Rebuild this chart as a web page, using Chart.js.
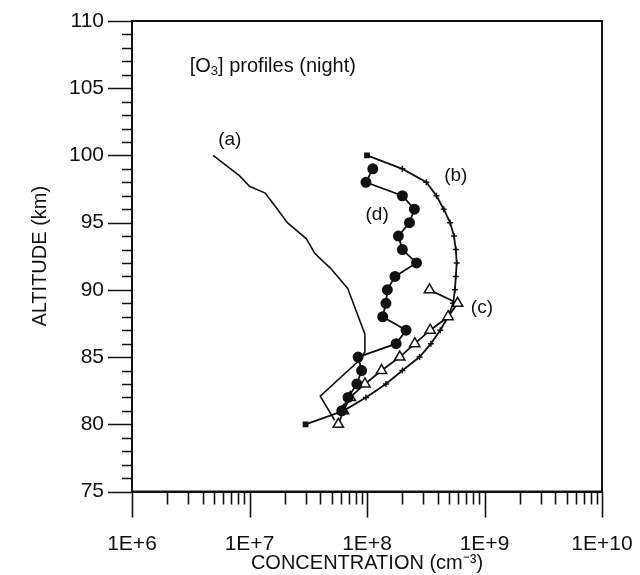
<!DOCTYPE html>
<html>
<head>
<meta charset="utf-8">
<title>O3 night profiles</title>
<script src="https://cdn.jsdelivr.net/npm/chart.js@4.4.1/dist/chart.umd.min.js"></script>
<style>
    html, body { margin: 0; padding: 0; background: #fff; }
</style>
</head>
<body>
<canvas id="ozoneChart" width="640" height="575"></canvas>
<script>
// --- data (altitude in km, concentration in cm-3) ---
const altA  = [100, 98.5, 97.7, 97.2, 96.2, 95.0, 93.8, 92.7, 91.6, 90.1, 88.8, 86.7, 85.4, 84.8, 82.1, 80.3];
const concA = [4.9e6, 8.2e6, 1.0e7, 1.36e7, 1.66e7, 2.1e7, 3.05e7, 3.6e7, 4.9e7, 6.85e7, 7.8e7, 9.6e7, 9.6e7, 8.7e7, 4.0e7, 5.3e7];

const altB  = [100, 99, 98, 97, 96, 95, 94, 93, 92, 91, 90, 89, 88, 87, 86, 85, 84, 83, 82, 81, 80];
const concB = [1.0e8, 2.0e8, 3.2e8, 3.9e8, 4.5e8, 5.1e8, 5.5e8, 5.7e8, 5.8e8, 5.7e8, 5.6e8, 5.4e8, 4.9e8, 4.2e8, 3.5e8, 2.8e8, 2.0e8, 1.45e8, 9.8e7, 6.3e7, 3.0e7];

const altC  = [90, 89, 88, 87, 86, 85, 84, 83, 82, 81, 80];
const concC = [3.4e8, 5.9e8, 4.9e8, 3.45e8, 2.55e8, 1.9e8, 1.33e8, 9.6e7, 7.2e7, 6.3e7, 5.7e7];

const altD  = [99, 98, 97, 96, 95, 94, 93, 92, 91, 90, 89, 88, 87, 86, 85, 84, 83, 82, 81];
const concD = [1.12e8, 9.8e7, 2.0e8, 2.53e8, 2.3e8, 1.85e8, 2.0e8, 2.64e8, 1.73e8, 1.49e8, 1.45e8, 1.36e8, 2.15e8, 1.77e8, 8.4e7, 9.0e7, 8.2e7, 6.9e7, 6.1e7];

const xTickDecades = [6, 7, 8, 9, 10];
const yMin = 75, yMax = 110;

const INK = '#111';
const FONT = 'Liberation Sans, Arial, sans-serif';

function points(conc, alt) {
    return conc.map((c, i) => ({ x: c, y: alt[i] }));
}

// ticks, frame and the in-plot notes
const decorPlugin = {
    id: 'decor',
    afterDraw(chart) {
        const { ctx, chartArea: a, scales: { x, y } } = chart;
        ctx.save();
        ctx.strokeStyle = INK;
        ctx.lineWidth = 2;
        ctx.strokeRect(a.left, a.top, a.right - a.left, a.bottom - a.top);

        // x ticks: long on decades, short on 2..9
        ctx.lineWidth = 1.6;
        ctx.beginPath();
        for (let d = xTickDecades[0]; d <= xTickDecades[xTickDecades.length - 1]; d++) {
            const maxM = d === xTickDecades[xTickDecades.length - 1] ? 1 : 9;
            for (let m = 1; m <= maxM; m++) {
                const px = Math.round(x.getPixelForValue(m * Math.pow(10, d))) + 0.5;
                const len = m === 1 ? 26 : 13;
                ctx.moveTo(px, a.bottom);
                ctx.lineTo(px, a.bottom + len);
            }
        }
        // y ticks: long every 5 km, short every km
        for (let v = yMin; v <= yMax; v++) {
            const py = Math.round(y.getPixelForValue(v)) + 0.5;
            const len = v % 5 === 0 ? 24 : 10;
            ctx.moveTo(a.left - len, py);
            ctx.lineTo(a.left, py);
        }
        ctx.stroke();

        // notes
        ctx.fillStyle = INK;
        ctx.font = '19px ' + FONT;
        ctx.textBaseline = 'middle';
        ctx.textAlign = 'center';
        const notes = [['(a)', 6.8e6, 101.15], ['(b)', 5.7e8, 98.45], ['(c)', 9.5e8, 88.7], ['(d)', 1.22e8, 95.55]];
        notes.forEach(([t, cx, cy]) => ctx.fillText(t, x.getPixelForValue(cx), y.getPixelForValue(cy)));

        // [O3] profiles (night)
        ctx.textAlign = 'left';
        let tx = x.getPixelForValue(3.1e6);
        const ty = y.getPixelForValue(106.65);
        ctx.font = '20px ' + FONT;
        ctx.fillText('[O', tx, ty);
        tx += ctx.measureText('[O').width;
        ctx.font = '13px ' + FONT;
        ctx.fillText('3', tx, ty + 5);
        tx += ctx.measureText('3').width;
        ctx.font = '20px ' + FONT;
        ctx.fillText('] profiles (night)', tx, ty);
        ctx.restore();
    }
};

new Chart(document.getElementById('ozoneChart'), {
    type: 'scatter',
    data: {
        datasets: [
            {
                label: '(d)',
                data: points(concD, altD),
                showLine: true,
                borderColor: INK,
                borderWidth: 1.8,
                pointStyle: 'circle',
                pointRadius: 4.6,
                pointBackgroundColor: INK,
                pointBorderColor: INK
            },
            {
                label: '(c)',
                data: points(concC, altC),
                showLine: true,
                borderColor: INK,
                borderWidth: 1.8,
                pointStyle: 'triangle',
                pointRadius: 6,
                pointBackgroundColor: '#fff',
                pointBorderColor: INK,
                pointBorderWidth: 1.5
            },
            {
                label: '(b)',
                data: points(concB, altB),
                showLine: true,
                borderColor: INK,
                borderWidth: 1.8,
                pointStyle: ctx => (ctx.dataIndex === 0 || ctx.dataIndex === altB.length - 1) ? 'rect' : 'cross',
                pointRadius: 3,
                pointBackgroundColor: INK,
                pointBorderColor: INK,
                pointBorderWidth: 1.5
            },
            {
                label: '(a)',
                data: points(concA, altA),
                showLine: true,
                borderColor: INK,
                borderWidth: 1.6,
                pointRadius: 0
            }
        ]
    },
    options: {
        responsive: false,
        animation: false,
        events: [],
        layout: { padding: { top: 21, right: 38, left: 0, bottom: 0 } },
        plugins: {
            legend: { display: false },
            tooltip: { enabled: false }
        },
        scales: {
            x: {
                type: 'logarithmic',
                min: 1e6,
                max: 1e10,
                grid: { display: false, drawTicks: true, tickLength: 26 },
                border: { display: true, color: INK, width: 2 },
                ticks: {
                    autoSkip: false,
                    maxRotation: 0,
                    padding: 14,
                    color: INK,
                    font: { family: FONT, size: 21 },
                    callback: v => {
                        const e = Math.log10(v);
                        return Math.abs(e - Math.round(e)) < 1e-9 ? '1E+' + Math.round(e) : '';
                    }
                },
                title: {
                    display: true,
                    text: 'CONCENTRATION (cm\u207B\u00B3)',
                    color: INK,
                    font: { family: FONT, size: 20 },
                    padding: 0
                },
                afterFit: s => {
                    s.height = 575 - 491.5;
                    s.paddingLeft = 0;
                    s.paddingRight = 0;
                }
            },
            y: {
                type: 'linear',
                min: yMin,
                max: yMax,
                grid: { display: false, drawTicks: true, tickLength: 24 },
                border: { display: true, color: INK, width: 2 },
                ticks: {
                    stepSize: 1,
                    autoSkip: false,
                    padding: 4,
                    color: INK,
                    font: { family: FONT, size: 21 },
                    callback: v => (v % 5 === 0 ? v : '')
                },
                title: {
                    display: true,
                    text: 'ALTITUDE (km)',
                    color: INK,
                    font: { family: FONT, size: 20 },
                    padding: { top: 28, bottom: 0 }
                },
                afterFit: s => {
                    s.width = 132;
                    s.paddingTop = 0;
                    s.paddingBottom = 0;
                }
            }
        }
    },
    plugins: [decorPlugin]
});
</script>
</body>
</html>
